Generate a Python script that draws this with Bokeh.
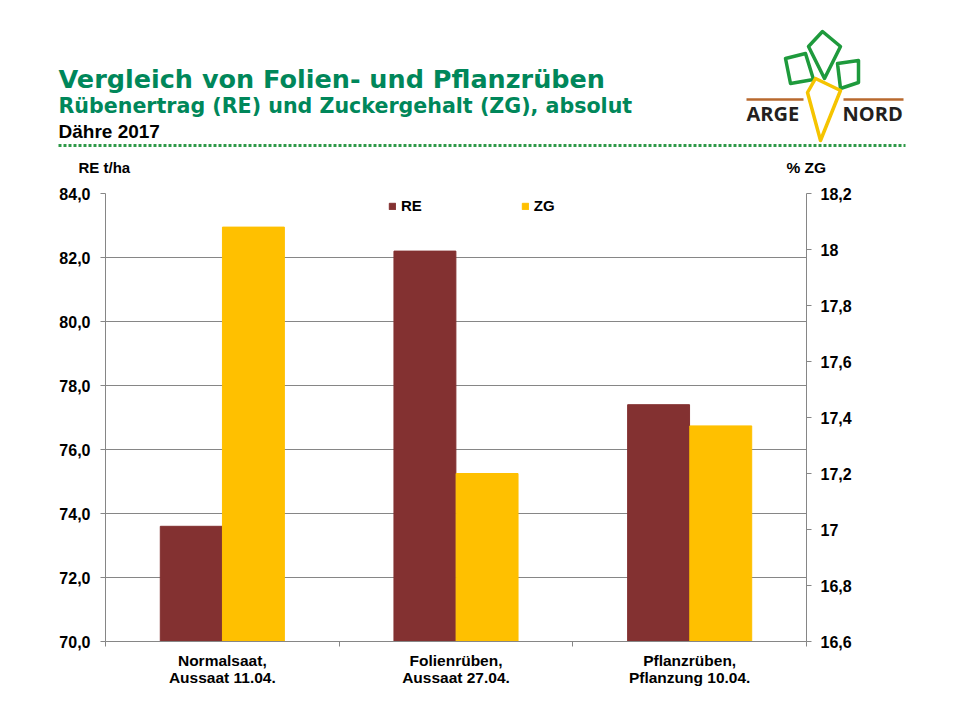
from bokeh.plotting import figure
from bokeh.models import (Range1d, LinearAxis, FixedTicker, Legend, LegendItem, ColumnDataSource)
from bokeh.embed import file_html
from bokeh.resources import INLINE
from bokeh.core.properties import value

# ---------------- data ----------------
categories = ["Normalsaat,\nAussaat 11.04.", "Folienrüben,\nAussaat 27.04.", "Pflanzrüben,\nPflanzung 10.04."]
re_values = [73.6, 82.2, 77.4]
zg_values = [18.08, 17.2, 17.37]
re_ticks = [70, 72, 74, 76, 78, 80, 82, 84]
re_tick_labels = ["70,0", "72,0", "74,0", "76,0", "78,0", "80,0", "82,0", "84,0"]
zg_ticks = [16.6, 16.8, 17.0, 17.2, 17.4, 17.6, 17.8, 18.0, 18.2]
zg_tick_labels = ["16,6", "16,8", "17", "17,2", "17,4", "17,6", "17,8", "18", "18,2"]

title = "Vergleich von Folien- und Pflanzrüben"
subtitle = "Rübenertrag  (RE) und Zuckergehalt  (ZG), absolut"
location = "Dähre 2017"
y_left_title = "RE t/ha"
y_right_title = "% ZG"

# ---------------- style ----------------
RE_COLOR = "#833131"
ZG_COLOR = "#FFC000"
GREEN = "#00875A"
GRAY = "#868686"
FONT = "Liberation Sans"
HEAD_H = 180                          # height of the header canvas
FL, FR, FT, FB = 105, 806, 193, 641   # frame edges in page pixels

# ---------------- header figure (page pixel coordinates) ----------------
h = figure(width=960, height=HEAD_H, x_range=Range1d(0, 960), y_range=Range1d(HEAD_H, 0),
           output_backend="svg", toolbar_location=None, min_border=0,
           x_axis_location=None, y_axis_location=None)
h.grid.visible = False
h.outline_line_color = None

def txt(x, baseline, text, size, color="#000000", font=FONT):
    # Bokeh places the bottom of the text box (incl. descent) at y
    h.text(x=[x], y=[baseline + 0.22 * size], text=[text], text_font=value(font),
           text_font_style="bold", text_font_size=f"{size}px", text_color=color,
           text_baseline="bottom")

txt(58, 88, title, 25.5, GREEN, "DejaVu Sans")
txt(58, 113, subtitle, 20.6, GREEN, "DejaVu Sans")
txt(58, 137, location, 19)
txt(78, 172, y_left_title, 15)
txt(786, 172, y_right_title, 15.5)
txt(746, 122, "ARGE", 20, "#231F20", "Open Sans")
txt(842, 122, "NORD", 20, "#231F20", "Open Sans")

h.line(x=[58, 905], y=[145, 145], line_color="#2E9A48", line_width=3, line_dash="3 2")

leaf_color = "#1E9A3C"
h.patches(xs=[[822, 840, 824, 808], [785, 805, 813, 790], [837, 858, 858, 840]],
          ys=[[31, 46, 78, 46], [58, 53, 79, 83], [63, 60, 82, 88]],
          fill_alpha=0, line_color=leaf_color, line_width=3.5, line_join="round")
h.line(x=[746, 803], y=[99, 99], line_color="#B8692E", line_width=2.5)
h.line(x=[843, 903], y=[99, 99], line_color="#B8692E", line_width=2.5)
h.patch(x=[815, 840, 820, 807], y=[78, 90, 140, 92], fill_alpha=0,
        line_color="#F5C400", line_width=3.5, line_join="round")

# ---------------- chart figure ----------------
n = len(categories)
p = figure(width=960, height=720 - HEAD_H, x_range=Range1d(0, n), y_range=Range1d(70, 84),
           output_backend="svg", toolbar_location=None,
           min_border_left=FL, min_border_right=960 - FR,
           min_border_top=FT - HEAD_H, min_border_bottom=720 - FB,
           x_axis_location=None, y_axis_location=None)
p.outline_line_color = None
p.extra_y_ranges = {"zg": Range1d(16.6, 18.2)}

offset = 0.133
bar_w = 0.265
centers = [i + 0.5 for i in range(n)]
src = ColumnDataSource(dict(x_re=[c - offset for c in centers], x_zg=[c + offset for c in centers],
                            re=re_values, zg=zg_values))
r_re = p.vbar(x="x_re", top="re", bottom=70, width=bar_w, color=RE_COLOR, source=src)
r_zg = p.vbar(x="x_zg", top="zg", bottom=16.6, width=bar_w, color=ZG_COLOR, source=src,
              y_range_name="zg")

ly = LinearAxis(ticker=FixedTicker(ticks=re_ticks, minor_ticks=[]),
                major_label_overrides={t: l for t, l in zip(re_ticks, re_tick_labels)})
ry = LinearAxis(y_range_name="zg", ticker=FixedTicker(ticks=zg_ticks, minor_ticks=[]),
                major_label_overrides={t: l for t, l in zip(zg_ticks, zg_tick_labels)})
for ax in (ly, ry):
    ax.axis_line_color = GRAY
    ax.major_tick_line_color = GRAY
    ax.major_tick_in = 0
    ax.major_tick_out = 5
    ax.minor_tick_line_color = None
    ax.major_label_text_font = FONT
    ax.major_label_text_font_style = "bold"
    ax.major_label_text_font_size = "16px"
    ax.major_label_text_color = "#000000"
ly.major_label_standoff = 10
ry.major_label_standoff = 9
p.add_layout(ly, "left")
p.add_layout(ry, "right")

bx = LinearAxis(ticker=FixedTicker(ticks=centers, minor_ticks=list(range(n + 1))),
                major_label_overrides={c: l for c, l in zip(centers, categories)})
bx.axis_line_color = GRAY
bx.major_tick_line_color = None
bx.minor_tick_line_color = GRAY
bx.minor_tick_in = 0
bx.minor_tick_out = 5
bx.major_label_text_font = FONT
bx.major_label_text_font_style = "bold"
bx.major_label_text_font_size = "15.5px"
bx.major_label_text_color = "#000000"
bx.major_label_text_line_height = 1.05
bx.major_label_standoff = 4
p.add_layout(bx, "below")

p.xgrid.visible = False
p.ygrid.ticker = FixedTicker(ticks=re_ticks)
p.ygrid.grid_line_color = GRAY
p.ygrid.grid_line_width = 1

legend = Legend(items=[LegendItem(label="RE", renderers=[r_re]), LegendItem(label="ZG", renderers=[r_zg])],
                orientation="horizontal", location=(283, 427), glyph_width=8, glyph_height=8,
                label_standoff=5, spacing=99, padding=0, margin=0,
                border_line_color=None, background_fill_alpha=0,
                label_text_font=FONT, label_text_font_style="bold", label_text_font_size="15px",
                label_text_color="#000000", label_height=16)
p.add_layout(legend, "center")

open("out.html", "w").write(file_html([h, p], INLINE))
